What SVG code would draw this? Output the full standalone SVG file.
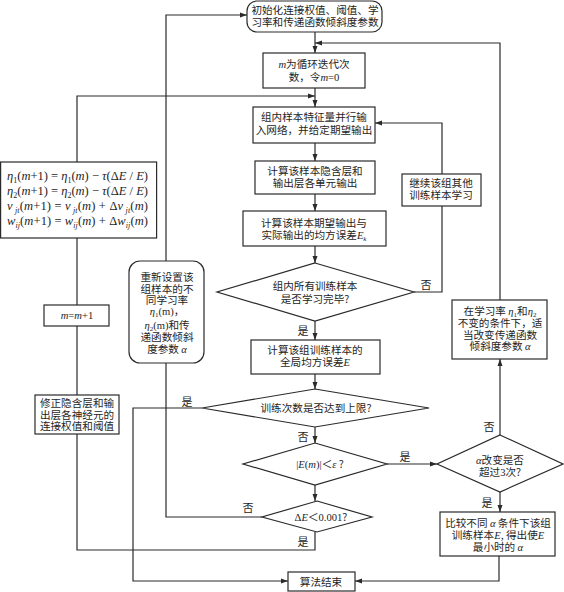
<svg xmlns="http://www.w3.org/2000/svg" width="564" height="592" viewBox="0 0 564 592">
<style>
.ln{fill:none;stroke:#2a2a2a;stroke-width:1.2}
.bx{fill:#fff;stroke:#2a2a2a;stroke-width:1.2}
.t{font-family:"Noto Sans CJK SC","Noto Sans CJK JP",sans-serif;font-size:10.6px;fill:#1e1e1e;text-anchor:middle}
.lb{font-family:"Noto Sans CJK SC",sans-serif;font-size:11px;fill:#1e1e1e;text-anchor:middle}
.i{font-family:"Liberation Serif",serif;font-style:italic}
.s{font-family:"Liberation Serif",serif}
.f{font-family:"Liberation Serif",serif;font-size:12.5px;fill:#1e1e1e}
</style>
<defs>
<marker id="a" markerUnits="userSpaceOnUse" markerWidth="8" markerHeight="6" refX="7" refY="3" orient="auto">
<path d="M0,0.5 L7,3 L0,5.5 Z" fill="#2a2a2a"/>
</marker>
</defs>
<rect width="564" height="592" fill="#fff"/>
<g id="connectors">
<line class="ln" x1="315" y1="32" x2="315" y2="53" marker-end="url(#a)"/>
<line class="ln" x1="315" y1="88" x2="315" y2="107" marker-end="url(#a)"/>
<line class="ln" x1="315" y1="143" x2="315" y2="161" marker-end="url(#a)"/>
<line class="ln" x1="315" y1="194" x2="315" y2="211" marker-end="url(#a)"/>
<line class="ln" x1="315" y1="246" x2="315" y2="263" marker-end="url(#a)"/>
<line class="ln" x1="315" y1="321" x2="315" y2="340" marker-end="url(#a)"/>
<line class="ln" x1="315" y1="374" x2="315" y2="389" marker-end="url(#a)"/>
<line class="ln" x1="315" y1="427" x2="315" y2="443" marker-end="url(#a)"/>
<line class="ln" x1="315" y1="485" x2="315" y2="501" marker-end="url(#a)"/>
<line class="ln" x1="387" y1="464" x2="437" y2="464" marker-end="url(#a)"/>
<line class="ln" x1="500" y1="435" x2="500" y2="359" marker-end="url(#a)"/>
<polyline class="ln" points="500,300 500,43 315,43" marker-end="url(#a)"/>
<line class="ln" x1="500" y1="492" x2="500" y2="512" marker-end="url(#a)"/>
<polyline class="ln" points="499,556 499,581 355,581" marker-end="url(#a)"/>
<polyline class="ln" points="414,292 442,292 442,123 375,123" marker-end="url(#a)"/>
<polyline class="ln" points="202,408 133,408 133,581 288,581" marker-end="url(#a)"/>
<polyline class="ln" points="315,532 315,550 77,550 77,96 315,96" marker-end="url(#a)"/>
<polyline class="ln" points="262,517 166,517 166,15 247,15" marker-end="url(#a)"/>
</g>
<g id="n-init">
<rect class="bx" x="247" y="1" width="135" height="31" rx="10"/>
<text class="t" x="315" y="14">初始化连接权值、阈值、学<tspan x="315" dy="12">习率和传递函数倾斜度参数</tspan></text>
</g>
<g id="n-m">
<rect class="bx" x="263" y="53" width="102" height="35"/>
<text class="t" x="314" y="68"><tspan class="i">m</tspan>为循环迭代次<tspan x="314" dy="13">数，令</tspan><tspan class="i">m</tspan><tspan class="s">=0</tspan></text>
</g>
<g id="n-input">
<rect class="bx" x="253" y="107" width="122" height="36"/>
<text class="t" x="314" y="121">组内样本特征量并行输<tspan x="314" dy="13">入网络，并给定期望输出</tspan></text>
</g>
<g id="n-hidden">
<rect class="bx" x="255" y="161" width="120" height="33"/>
<text class="t" x="315" y="175">计算该样本隐含层和<tspan x="315" dy="12">输出层各单元输出</tspan></text>
</g>
<g id="n-ek">
<rect class="bx" x="243" y="211" width="143" height="35"/>
<text class="t" x="314" y="227">计算该样本期望输出与<tspan x="314" dy="12">实际输出的均方误差</tspan><tspan class="i">E</tspan><tspan class="i" font-size="7" dy="2">k</tspan></text>
</g>
<g id="n-done">
<polygon class="bx" points="315,263 414,292 315,321 217,292"/>
<text class="t" x="315" y="290">组内所有训练样本<tspan x="315" dy="13">是否学习完毕?</tspan></text>
</g>
<g id="n-global">
<rect class="bx" x="251" y="340" width="129" height="34"/>
<text class="t" x="315" y="354">计算该组训练样本的<tspan x="315" dy="12">全局均方误差</tspan><tspan class="i">E</tspan></text>
</g>
<g id="n-limit">
<polygon class="bx" points="315,389 429,408 315,427 202,408"/>
<text class="t" x="316" y="412">训练次数是否达到上限?</text>
</g>
<g id="n-eps">
<polygon class="bx" points="315,443 387,464 315,485 243,464"/>
<text class="t" x="320" y="468"><tspan class="s">|</tspan><tspan class="i">E</tspan><tspan class="s">(</tspan><tspan class="i">m</tspan><tspan class="s">)|</tspan>＜<tspan class="i">ε</tspan> ?</text>
</g>
<g id="n-de">
<polygon class="bx" points="317,501 372,517 317,532 262,517"/>
<text class="t" x="321" y="521"><tspan class="s">Δ</tspan><tspan class="i">E</tspan>＜<tspan class="s">0.001</tspan>?</text>
</g>
<g id="n-alpha3">
<polygon class="bx" points="500,435 563,464 500,492 437,464"/>
<text class="t" x="500" y="464"><tspan class="i">α</tspan>改变是否<tspan x="500" dy="12">超过</tspan><tspan class="s">3</tspan>次?</text>
</g>
<g id="n-adjust">
<rect class="bx" x="452" y="300" width="95" height="59"/>
<text class="t" x="500" y="315">在学习率 <tspan class="i">η</tspan><tspan class="s" font-size="7" dy="2">1</tspan><tspan dy="-2">和</tspan><tspan class="i">η</tspan><tspan class="s" font-size="7" dy="2">2</tspan><tspan x="500" dy="10">不变的条件下，适</tspan><tspan x="500" dy="11.5">当改变传递函数</tspan><tspan x="500" dy="11.5">倾斜度参数 </tspan><tspan class="i">α</tspan></text>
</g>
<g id="n-compare">
<rect class="bx" x="440" y="512" width="115" height="44"/>
<text class="t" x="498" y="527">比较不同 <tspan class="i">α</tspan> 条件下该组<tspan x="498" dy="12">训练样本</tspan><tspan class="i">E</tspan>, 得出使<tspan class="i">E</tspan><tspan x="498" dy="12">最小时的 </tspan><tspan class="i">α</tspan></text>
</g>
<g id="n-end">
<rect class="bx" x="288" y="572" width="67" height="19"/>
<text class="t" x="321" y="586">算法结束</text>
</g>
<g id="n-continue">
<rect class="bx" x="402" y="174" width="79" height="32"/>
<text class="t" x="441" y="187">继续该组其他<tspan x="441" dy="11.5">训练样本学习</tspan></text>
</g>
<g id="n-reset">
<rect class="bx" x="129" y="261" width="75" height="102" rx="11"/>
<text class="t" x="167" y="281">重新设置该<tspan x="167" dy="12">组样本的不</tspan><tspan x="167" dy="11">同学习率</tspan><tspan x="167" dy="11" class="i">η</tspan><tspan class="s" font-size="7" dy="2">1</tspan><tspan class="s" dy="-2">(m)</tspan>，<tspan x="167" dy="14" class="i">η</tspan><tspan class="s" font-size="7" dy="2">2</tspan><tspan class="s" dy="-2">(m)</tspan>和传<tspan x="167" dy="12">递函数倾斜</tspan><tspan x="167" dy="12">度参数 </tspan><tspan class="i">α</tspan></text>
</g>
<g id="n-formula">
<rect class="bx" x="0.6" y="162" width="156" height="76"/>
<text class="f" x="7" y="180" textLength="141" lengthAdjust="spacing"><tspan class="i">η</tspan><tspan font-size="8" dy="3">1</tspan><tspan dy="-3">(</tspan><tspan class="i">m</tspan>+1) = <tspan class="i">η</tspan><tspan font-size="8" dy="3">1</tspan><tspan dy="-3">(</tspan><tspan class="i">m</tspan>) − <tspan class="i">τ</tspan>(Δ<tspan class="i">E</tspan> / <tspan class="i">E</tspan>)</text>
<text class="f" x="7" y="195" textLength="141" lengthAdjust="spacing"><tspan class="i">η</tspan><tspan font-size="8" dy="3">2</tspan><tspan dy="-3">(</tspan><tspan class="i">m</tspan>+1) = <tspan class="i">η</tspan><tspan font-size="8" dy="3">2</tspan><tspan dy="-3">(</tspan><tspan class="i">m</tspan>) − <tspan class="i">τ</tspan>(Δ<tspan class="i">E</tspan> / <tspan class="i">E</tspan>)</text>
<text class="f" x="7" y="210" textLength="141" lengthAdjust="spacing"><tspan class="i">v</tspan><tspan class="i" font-size="8" dy="3"> jt</tspan><tspan dy="-3">(</tspan><tspan class="i">m</tspan>+1) = <tspan class="i">v</tspan><tspan class="i" font-size="8" dy="3"> jt</tspan><tspan dy="-3">(</tspan><tspan class="i">m</tspan>) + Δ<tspan class="i">v</tspan><tspan class="i" font-size="8" dy="3"> jt</tspan><tspan dy="-3">(</tspan><tspan class="i">m</tspan>)</text>
<text class="f" x="7" y="225" textLength="141" lengthAdjust="spacing"><tspan class="i">w</tspan><tspan class="i" font-size="8" dy="3">ij</tspan><tspan dy="-3">(</tspan><tspan class="i">m</tspan>+1) = <tspan class="i">w</tspan><tspan class="i" font-size="8" dy="3">ij</tspan><tspan dy="-3">(</tspan><tspan class="i">m</tspan>) + Δ<tspan class="i">w</tspan><tspan class="i" font-size="8" dy="3">ij</tspan><tspan dy="-3">(</tspan><tspan class="i">m</tspan>)</text>
</g>
<g id="n-inc">
<rect class="bx" x="44" y="305" width="65" height="21"/>
<text class="t" x="77" y="319"><tspan class="i">m</tspan><tspan class="s">=</tspan><tspan class="i">m</tspan><tspan class="s">+1</tspan></text>
</g>
<g id="n-fix">
<rect class="bx" x="35" y="395" width="84" height="39"/>
<text class="t" x="77" y="407">修正隐含层和输<tspan x="77" dy="12">出层各神经元的</tspan><tspan x="77" dy="11">连接权值和阈值</tspan></text>
</g>
<g id="labels">
<text class="lb" x="303" y="335">是</text>
<text class="lb" x="426" y="289">否</text>
<text class="lb" x="187" y="406">是</text>
<text class="lb" x="303" y="441">否</text>
<text class="lb" x="405" y="461">是</text>
<text class="lb" x="489" y="431">否</text>
<text class="lb" x="487" y="507">是</text>
<text class="lb" x="248" y="512">否</text>
<text class="lb" x="303" y="546">是</text>
</g>
</svg>
